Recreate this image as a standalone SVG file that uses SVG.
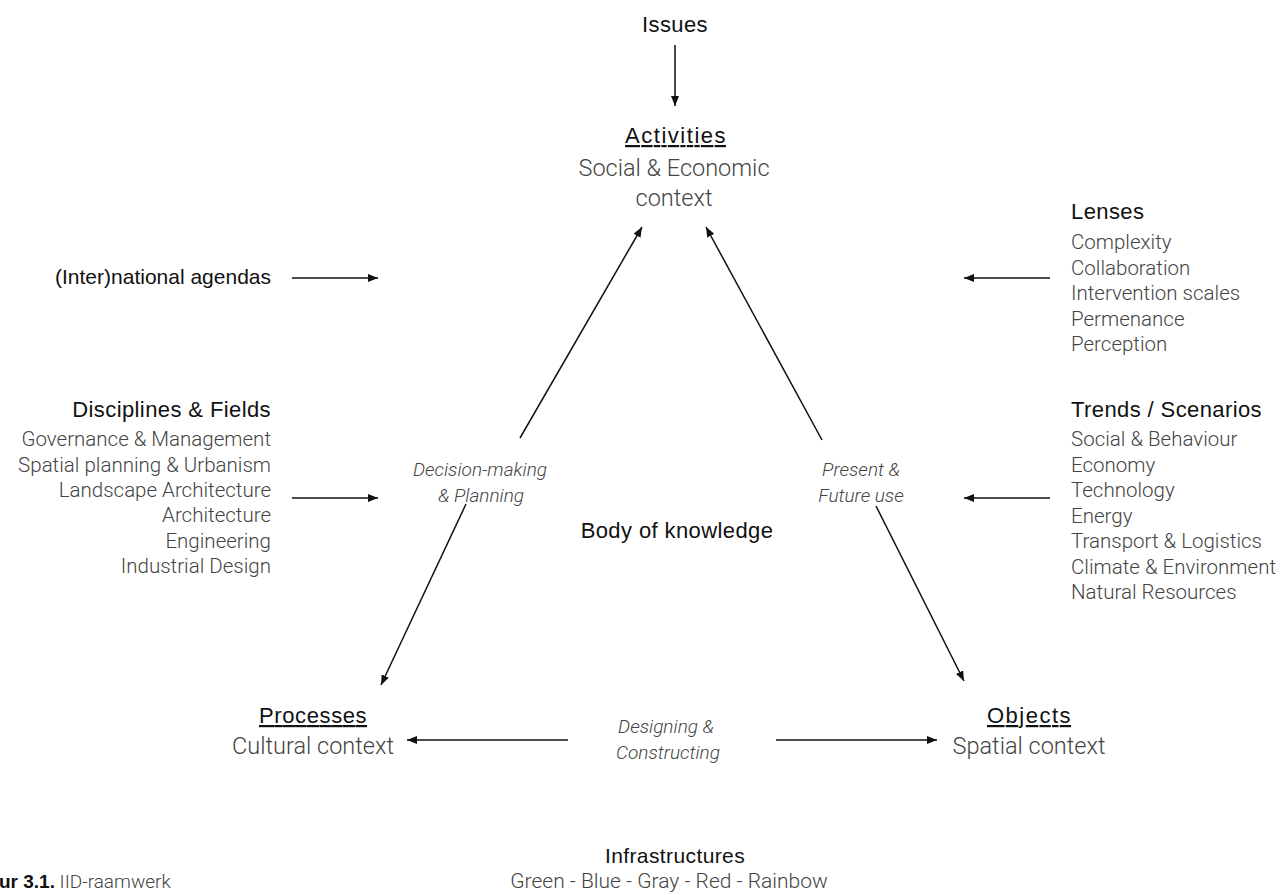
<svg xmlns="http://www.w3.org/2000/svg" width="1284" height="895" viewBox="0 0 1284 895">
<defs>
<marker id="ah" viewBox="0 0 10 8" refX="10" refY="4" markerWidth="10" markerHeight="8" markerUnits="userSpaceOnUse" orient="auto">
<path d="M0,0 L10,4 L0,8 Z" fill="#111"/>
</marker>
<style>
text{font-family:Roboto,"Liberation Sans",sans-serif}
.h{font-family:"Liberation Sans",Arial,sans-serif;font-size:22px;fill:#111;letter-spacing:0.4px}
.b{font-size:20.5px;fill:#444;font-weight:300}
.big{font-size:23.5px;fill:#444;font-weight:300}
.i{font-size:19px;fill:#444;font-weight:300;font-style:italic}
.u{text-decoration:underline;font-size:22px}
.m{text-anchor:middle}
.e{text-anchor:end}
.c line{stroke:#111;stroke-width:1.5;marker-end:url(#ah)}
</style>
</defs>
<rect width="1284" height="895" fill="#fff"/>
<g class="c" id="connectors">
<line x1="675" y1="45" x2="675" y2="106"/>
<line x1="520" y1="438" x2="642" y2="227"/>
<line x1="822" y1="440" x2="706" y2="227"/>
<line x1="466" y1="504" x2="381" y2="685"/>
<line x1="876" y1="506" x2="964" y2="681"/>
<line x1="568" y1="740" x2="407" y2="740"/>
<line x1="776" y1="740" x2="937" y2="740"/>
<line x1="292" y1="278" x2="378" y2="278"/>
<line x1="292" y1="498" x2="378" y2="498"/>
<line x1="1050" y1="278" x2="964" y2="278"/>
<line x1="1050" y1="498" x2="964" y2="498"/>
</g>
<g id="issues"><text class="h" x="642" y="32" textLength="66" lengthAdjust="spacing">Issues</text></g>
<g id="activities">
<text class="h u" x="625" y="143" textLength="101" lengthAdjust="spacing">Activities</text>
<text class="big m" x="674" y="176">Social &amp; Economic</text>
<text class="big m" x="674" y="206">context</text>
</g>
<g id="agendas"><text class="h e" x="271" y="284" style="letter-spacing:0;font-size:21px">(Inter)national agendas</text></g>
<g id="disciplines">
<text class="h e" x="271" y="417">Disciplines &amp; Fields</text>
<text class="b e" x="271" y="446">Governance &amp; Management</text>
<text class="b e" x="271" y="472">Spatial planning &amp; Urbanism</text>
<text class="b e" x="271" y="497">Landscape Architecture</text>
<text class="b e" x="271" y="522">Architecture</text>
<text class="b e" x="271" y="548">Engineering</text>
<text class="b e" x="271" y="573">Industrial Design</text>
</g>
<g id="lenses">
<text class="h" x="1071" y="219">Lenses</text>
<text class="b" x="1071" y="249">Complexity</text>
<text class="b" x="1071" y="275">Collaboration</text>
<text class="b" x="1071" y="300">Intervention scales</text>
<text class="b" x="1071" y="326">Permenance</text>
<text class="b" x="1071" y="351">Perception</text>
</g>
<g id="trends">
<text class="h" x="1071" y="417">Trends / Scenarios</text>
<text class="b" x="1071" y="446">Social &amp; Behaviour</text>
<text class="b" x="1071" y="472">Economy</text>
<text class="b" x="1071" y="497">Technology</text>
<text class="b" x="1071" y="523">Energy</text>
<text class="b" x="1071" y="548">Transport &amp; Logistics</text>
<text class="b" x="1071" y="574">Climate &amp; Environment</text>
<text class="b" x="1071" y="599">Natural Resources</text>
</g>
<g id="decision">
<text class="i m" x="480" y="476">Decision-making</text>
<text class="i m" x="481" y="502">&amp; Planning</text>
</g>
<g id="present">
<text class="i m" x="861" y="476">Present &amp;</text>
<text class="i m" x="861" y="502">Future use</text>
</g>
<g id="body"><text class="h m" x="677" y="538">Body of knowledge</text></g>
<g id="processes">
<text class="h u" x="259" y="723" textLength="108" lengthAdjust="spacing">Processes</text>
<text class="big m" x="313" y="754">Cultural context</text>
</g>
<g id="designing">
<text class="i m" x="666" y="733">Designing &amp;</text>
<text class="i m" x="668" y="759">Constructing</text>
</g>
<g id="objects">
<text class="h u" x="987" y="723" textLength="84" lengthAdjust="spacing">Objects</text>
<text class="big m" x="1029" y="754">Spatial context</text>
</g>
<g id="infrastructures">
<text class="h m" x="675" y="863" style="font-size:21px">Infrastructures</text>
<text class="b m" x="669" y="888" style="font-size:21px">Green - Blue - Gray - Red - Rainbow</text>
</g>
<g id="caption">
<text x="-1" y="888" style="font-size:19px;fill:#444;font-weight:300"><tspan style="font-family:'Liberation Sans',Arial,sans-serif;font-weight:700;fill:#111">ur 3.1.</tspan> IID-raamwerk</text>
</g>
</svg>
